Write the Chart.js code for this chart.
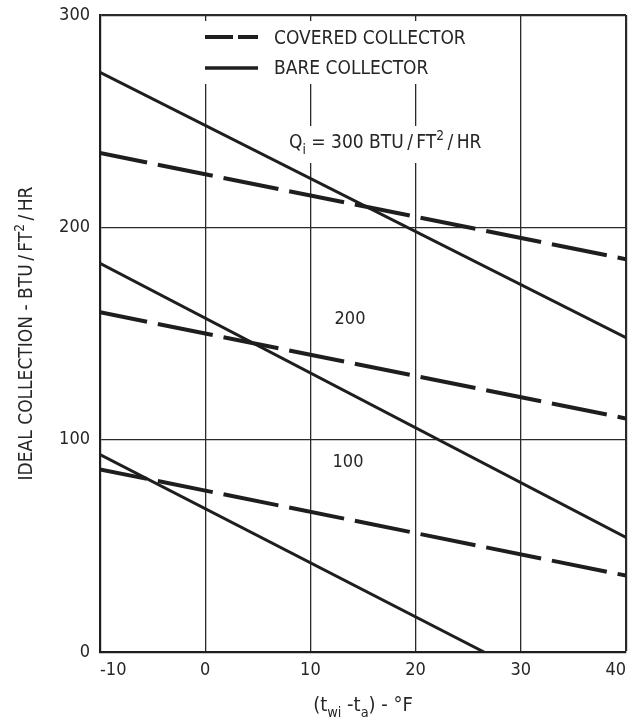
<!DOCTYPE html>
<html>
<head>
<meta charset="utf-8">
<script src="https://cdn.jsdelivr.net/npm/chart.js@4.4.1/dist/chart.umd.min.js"></script>
<style>
  html, body { margin: 0; padding: 0; background: #fff; }
  #wrap { width: 629px; height: 719px; }
</style>
</head>
<body>
<div id="wrap"><canvas id="chart" width="629" height="719"></canvas></div>
<script>
// Temperature difference (t_wi - t_a), °F
const xTicks = [-10, 0, 10, 20, 30, 40];
const yTicks = [0, 100, 200, 300];
const lineX = [-10, 40];

// Ideal collection, BTU/ft²/hr, for incident flux Q_i = 300, 200, 100
const covered300 = [235, 185];
const bare300 = [273, 148];
const covered200 = [160, 110];
const bare200 = [183, 54];
const covered100 = [86, 36];
const bare100X = [-10, 26.5];
const bare100 = [93, 0];

const FONT = '"DejaVu Sans Condensed", "Liberation Sans Narrow", "Roboto Condensed", "DejaVu Sans", sans-serif';
const INK = '#1e1e1e';
const TEXT = '#262626';
const THIN = '\u2009';

const pts = (xs, ys) => xs.map((x, i) => ({ x: x, y: ys[i] }));

const coveredStyle = { borderColor: INK, borderWidth: 4, borderDash: [56, 11], borderDashOffset: 8, borderCapStyle: 'butt' };
const bareStyle = { borderColor: INK, borderWidth: 3 };

// Draws a run of text pieces with sub/superscripts.
function drawRich(ctx, parts, x, y, size, align) {
  const spec = parts.map(([t, kind]) => {
    const s = kind === 'n' ? size : size * 0.72;
    const dy = kind === 'sub' ? size * 0.32 : kind === 'sup' ? -size * 0.42 : 0;
    ctx.font = s + 'px ' + FONT;
    return { t, s, dy, w: ctx.measureText(t).width };
  });
  const total = spec.reduce((a, p) => a + p.w, 0);
  let cx = align === 'center' ? x - total / 2 : x;
  ctx.textAlign = 'left';
  ctx.textBaseline = 'alphabetic';
  ctx.fillStyle = TEXT;
  spec.forEach(p => {
    ctx.font = p.s + 'px ' + FONT;
    ctx.fillText(p.t, cx, y + p.dy);
    cx += p.w;
  });
}

const annotations = {
  id: 'annotations',
  beforeDatasetsDraw(chart) {
    const ctx = chart.ctx;
    ctx.save();
    // white panels behind the key and the flux label
    ctx.fillStyle = '#fff';
    ctx.fillRect(198, 21, 284, 63);
    ctx.fillRect(286, 126, 226, 37);

    // key
    ctx.strokeStyle = INK;
    ctx.lineWidth = 4;
    ctx.setLineDash([28, 5]);
    ctx.beginPath(); ctx.moveTo(205, 37); ctx.lineTo(258, 37); ctx.stroke();
    ctx.setLineDash([]);
    ctx.lineWidth = 3.5;
    ctx.beginPath(); ctx.moveTo(205, 68); ctx.lineTo(258, 68); ctx.stroke();

    ctx.fillStyle = TEXT;
    ctx.font = '19px ' + FONT;
    ctx.textAlign = 'left';
    ctx.textBaseline = 'middle';
    ctx.fillText('COVERED COLLECTOR', 274, 39);
    ctx.fillText('BARE COLLECTOR', 274, 69);

    drawRich(ctx, [['Q', 'n'], ['i', 'sub'], [' = 300 BTU' + THIN + '/' + THIN + 'FT', 'n'], ['2', 'sup'], [THIN + '/' + THIN + 'HR', 'n']], 289, 148, 19, 'left');

    ctx.font = '18px ' + FONT;
    ctx.textAlign = 'center';
    ctx.textBaseline = 'middle';
    ctx.fillStyle = TEXT;
    ctx.fillText('200', 350, 319);
    ctx.fillText('100', 348, 462);
    ctx.restore();
  },
  afterDraw(chart) {
    const ctx = chart.ctx;
    const a = chart.chartArea;
    ctx.save();
    // y axis title
    ctx.translate(32, (a.top + a.bottom) / 2);
    ctx.rotate(-Math.PI / 2);
    drawRich(ctx, [['IDEAL COLLECTION - BTU' + THIN + '/' + THIN + 'FT', 'n'], ['2', 'sup'], [THIN + '/' + THIN + 'HR', 'n']], 0, 0, 19, 'center');
    ctx.restore();
    ctx.save();
    // x axis title
    drawRich(ctx, [['(t', 'n'], ['wi', 'sub'], [' -t', 'n'], ['a', 'sub'], [') - °F', 'n']],
      (a.left + a.right) / 2, 711, 20, 'center');
    ctx.restore();
  }
};

new Chart(document.getElementById('chart'), {
  type: 'line',
  data: {
    datasets: [
      Object.assign({ label: 'COVERED COLLECTOR', data: pts(lineX, covered300) }, coveredStyle),
      Object.assign({ label: 'BARE COLLECTOR', data: pts(lineX, bare300) }, bareStyle),
      Object.assign({ label: 'COVERED COLLECTOR', data: pts(lineX, covered200) }, coveredStyle),
      Object.assign({ label: 'BARE COLLECTOR', data: pts(lineX, bare200) }, bareStyle),
      Object.assign({ label: 'COVERED COLLECTOR', data: pts(lineX, covered100) }, coveredStyle),
      Object.assign({ label: 'BARE COLLECTOR', data: pts(bare100X, bare100) }, bareStyle)
    ]
  },
  options: {
    responsive: false,
    animation: false,
    devicePixelRatio: 1,
    layout: { padding: { top: 15, right: 3, left: 0, bottom: 0 } },
    elements: { point: { radius: 0 }, line: { tension: 0 } },
    plugins: { legend: { display: false }, tooltip: { enabled: false } },
    scales: {
      x: {
        type: 'linear',
        min: -10, max: 40,
        afterBuildTicks: s => { s.ticks = xTicks.map(v => ({ value: v })); },
        afterFit: s => { s.height = 67; s.paddingLeft = 0; s.paddingRight = 0; },
        grid: {
          color: '#2a2a2a',
          lineWidth: c => (c.tick && (c.tick.value === 40)) ? 2.2 : 1.3,
          drawTicks: false
        },
        border: { display: true, color: INK, width: 2.2 },
        ticks: {
          color: TEXT, padding: 8, align: 'inner', maxRotation: 0,
          font: { family: FONT, size: 18 }
        }
      },
      y: {
        min: 0, max: 300,
        afterBuildTicks: s => { s.ticks = yTicks.map(v => ({ value: v })); },
        afterFit: s => { s.width = 100; s.paddingTop = 0; s.paddingBottom = 0; },
        grid: {
          color: '#2a2a2a',
          lineWidth: c => (c.tick && (c.tick.value === 300)) ? 2.2 : 1.3,
          drawTicks: false
        },
        border: { display: true, color: INK, width: 2.2 },
        ticks: {
          color: TEXT, padding: 10,
          font: { family: FONT, size: 18 }
        }
      }
    }
  },
  plugins: [annotations]
});
</script>
</body>
</html>
